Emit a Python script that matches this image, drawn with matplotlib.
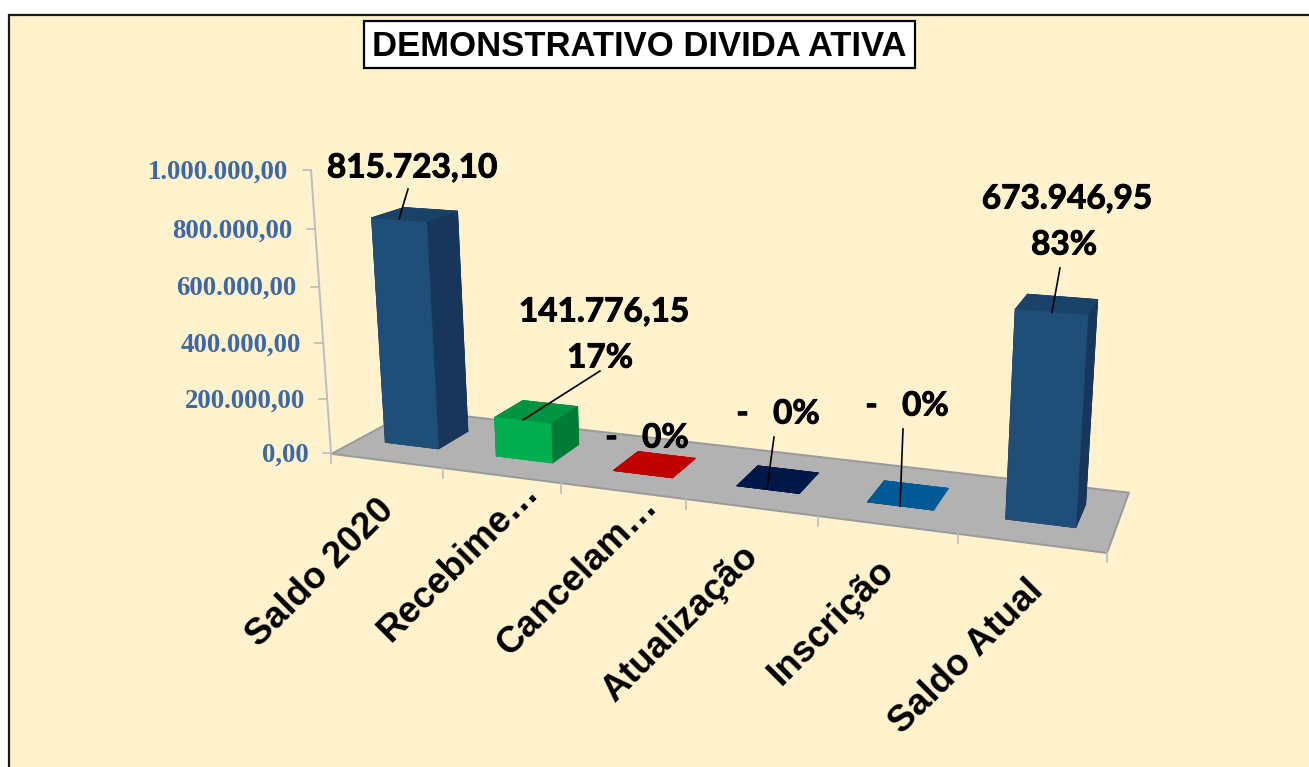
import numpy as np
import matplotlib
matplotlib.use("Agg")
import matplotlib.pyplot as plt
import matplotlib.patheffects as pe
from matplotlib.patches import Rectangle
from mpl_toolkits.mplot3d import Axes3D  # noqa: F401
from mpl_toolkits.mplot3d.art3d import Poly3DCollection

# ---------- data ----------
categories = ["Saldo 2020", "Recebime…", "Cancelam…", "Atualização", "Inscrição", "Saldo Atual"]
values = [815723.10, 141776.15, 0.0, 0.0, 0.0, 673946.95]
percent_labels = ["", "17%", "0%", "0%", "0%", "83%"]
y_ticks = [0, 200000, 400000, 600000, 800000, 1000000]
title = "DEMONSTRATIVO DIVIDA ATIVA"

# ---------- style ----------
W, H = 1309, 767
CREAM = "#FFF2CD"
navy_faces = ["#1F4E79", "#1A4268", "#1F4E79", "#17365A", "#17365A", "#17365A"]
face_colors = [
    navy_faces,
    ["#00B050", "#009443", "#00B050", "#007A37", "#007A37", "#007A37"],
    ["#C00000"] * 6,
    ["#001848"] * 6,
    ["#005A96"] * 6,
    navy_faces,
]
BAR_GAP = 0.257
DEPTH_FRONT, DEPTH_BACK = 0.31, 0.70

# ---------- camera: world (category, depth, value) -> picture pixels ----------
camera_refs = [
    (0, 0, 0, 332, 453), (1, 0, 0, 443, 468), (2, 0, 0, 560, 483), (3, 0, 0, 686, 498),
    (4, 0, 0, 818, 516), (5, 0, 0, 958, 534), (6, 0, 0, 1107, 553),
    (6, 1, 0, 1128, 491), (0, 1, 0, 411, 410),
    (0, 0, 1e6, 312, 170), (0, 0, 8e5, 315, 229), (0, 0, 6e5, 319, 286),
    (0, 0, 4e5, 323, 342), (0, 0, 2e5, 327, 398),
]
bar_refs = {
    0: dict(fl=(384, 443), fr=(439, 449), br=(470, 431), tfl=(371, 218), tfr=(428, 222), tbr=(460, 211), tbl=(400, 208)),
    1: dict(fl=(495, 456), fr=(553, 463), br=(580, 444), tfl=(494, 418), tfr=(552, 424), tbr=(579, 407), tbl=(523, 401)),
    2: dict(fl=(613, 471), fr=(672, 478), br=(696, 458), bl=(638, 451)),
    3: dict(fl=(735, 486), fr=(800, 494), br=(819, 473), bl=(757, 466)),
    4: dict(fl=(866, 502), fr=(934, 510), br=(949, 488), bl=(883, 480)),
    5: dict(fl=(1004, 519), fr=(1076, 528), br=(1087, 505), tfl=(1014, 309), tfr=(1089, 315), tbr=(1098, 300), tbl=(1027, 294)),
}
for i, d in bar_refs.items():
    x0, x1, y0, y1 = i + BAR_GAP, i + 1 - BAR_GAP, DEPTH_FRONT, DEPTH_BACK
    where = dict(fl=(x0, y0, 0), fr=(x1, y0, 0), br=(x1, y1, 0), bl=(x0, y1, 0),
                 tfl=(x0, y0, 1), tfr=(x1, y0, 1), tbr=(x1, y1, 1), tbl=(x0, y1, 1))
    for k, (px, py) in d.items():
        a, b, c = where[k]
        camera_refs.append((a, b, c * values[i], px, py))


def fit_camera(refs):
    A = []
    for x, y, z, u, v in refs:
        z, u, v = z / 1e6, u / 1000.0, v / 1000.0
        X = [x, y * 6, z * 6, 1]
        A.append(X + [0, 0, 0, 0] + [-u * c for c in X])
        A.append([0, 0, 0, 0] + X + [-v * c for c in X])
    _, _, vt = np.linalg.svd(np.array(A, float))
    P = vt[-1].reshape(3, 4)
    P[:2] *= 1000.0
    P[:, 1] *= 6
    P[:, 2] *= 6 / 1e6
    if P[2, 3] < 0:
        P = -P
    return P


P = fit_camera(camera_refs)
near = P[2, 3] * 0.5
M = np.vstack([P[0], P[1], P[2] - np.array([0, 0, 0, near]), P[2]])


def project(x, y, z):
    q = P @ np.array([x, y, z, 1.0])
    return q[0] / q[2], q[1] / q[2]


# ---------- figure ----------
plt.rcParams["font.family"] = ["Liberation Sans", "DejaVu Sans"]
fig = plt.figure(figsize=(W / 100, H / 100), dpi=100, facecolor="white")

bg = fig.add_axes([0, 0, 1, 1], zorder=0)
bg.set_xlim(0, W)
bg.set_ylim(H, 0)
bg.axis("off")
bg.add_patch(Rectangle((9, 14.5), W + 20, H + 20, facecolor=CREAM, edgecolor="#1a1a1a", linewidth=1.6))

ax = fig.add_axes([0, 0, 1, 1], projection="3d", zorder=1, computed_zorder=False)
ax.patch.set_visible(False)
ax.set_axis_off()
ax.get_proj = lambda: M
ax.apply_aspect = lambda position=None: None
ax.viewLim.intervalx = (0, W)
ax.viewLim.intervaly = (H, 0)

floor = Poly3DCollection([[(0, 0, 0), (6, 0, 0), (6, 1, 0), (0, 1, 0)]],
                         facecolor="#B2B2B2", edgecolor="#9A9A9A", linewidth=1.4, zorder=1)
ax.add_collection3d(floor)

for i, v in enumerate(values):
    ax.bar3d(i + BAR_GAP, DEPTH_FRONT, 0, 1 - 2 * BAR_GAP, DEPTH_BACK - DEPTH_FRONT, v,
             color=face_colors[i], edgecolor=face_colors[i], linewidth=0.5, shade=False, zorder=2 + i)

ov = fig.add_axes([0, 0, 1, 1], zorder=2)
ov.set_xlim(0, W)
ov.set_ylim(H, 0)
ov.axis("off")
ov.patch.set_visible(False)

# title
ov.add_patch(Rectangle((363.5, 20.5), 551, 47, facecolor="white", edgecolor="black", linewidth=1.6, zorder=4))
ov.text(639, 47, title, ha="center", va="center", fontsize=24.9, fontweight="bold", color="black", zorder=5)

# value axis line, ticks and labels
axis_pts = [project(0, 0, t) for t in y_ticks]
ov.plot([p[0] for p in axis_pts], [p[1] for p in axis_pts], color="#BDBDBD", linewidth=1.4)
for t, (px, py) in zip(y_ticks, axis_pts):
    ov.plot([px - 8, px], [py, py], color="#BDBDBD", linewidth=1.2)
    s = f"{t:,.2f}".replace(",", "#").replace(".", ",").replace("#", ".")
    ov.text(px - 22.5, py + 2, s, ha="right", va="center", fontsize=19.4, fontweight="bold",
            family="Liberation Serif", color="#3B68A8")

# category ticks
for i in range(len(categories) + 1):
    px, py = project(i, 0, 0)
    ov.plot([px, px], [py, py + 10], color="#BDBDBD", linewidth=1.2)

# category labels
cat_anchor = [(389, 505), (533, 487), (652, 501), (753, 551), (889, 565), (1038, 586)]
for name, (ax_, ay_) in zip(categories, cat_anchor):
    ov.text(ax_, ay_, name, rotation=45, rotation_mode="anchor", ha="right", va="center",
            fontsize=26.6, fontweight="bold", color="black")


def fmt_value(v):
    if v == 0:
        return "-"
    return f"{v:,.2f}".replace(",", "#").replace(".", ",").replace("#", ".")


# data labels: (value label pos, percent label pos, leader start, leader end)
value_pos = [(412, 168), (604, 312), None, None, None, (1067, 199)]
pct_pos = [None, (600, 358), (647, 438), (778, 414), (907, 406), (1064, 245)]
leaders = [((408, 189), (399, 219)), ((600, 371), (523, 420)), None,
           ((774, 437), (767, 489)), ((903, 429), (900, 506)), ((1060, 268), (1052, 312))]
for i, v in enumerate(values):
    style = dict(ha="center", va="center", fontsize=24, fontweight="bold", family="Lato", color="black",
                 path_effects=[pe.withStroke(linewidth=0.7, foreground="black")])
    if v != 0:
        ov.text(*value_pos[i], fmt_value(v), **style)
        if percent_labels[i]:
            ov.text(*pct_pos[i], percent_labels[i], **style)
    else:
        ov.text(*pct_pos[i], fmt_value(v) + "   " + percent_labels[i], **style)
    if leaders[i]:
        (a, b), (c, d) = leaders[i]
        ov.plot([a, c], [b, d], color="black", linewidth=1.2)

ov.set_xlim(0, W)
ov.set_ylim(H, 0)
fig.savefig("out.png", dpi=100, facecolor="white")
